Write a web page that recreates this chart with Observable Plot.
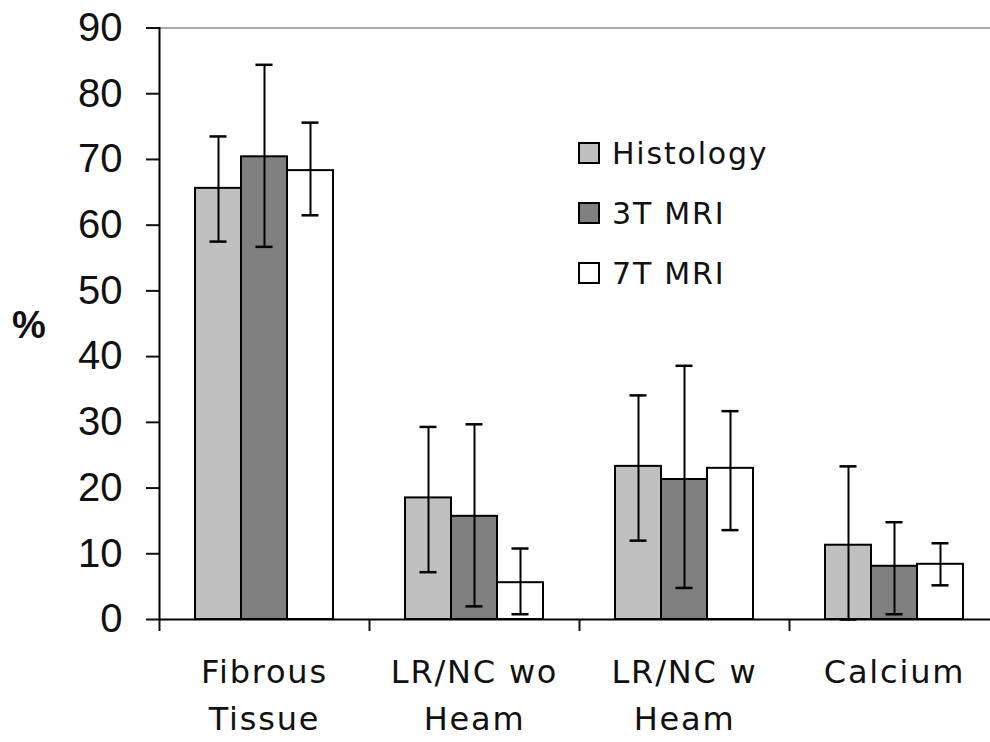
<!DOCTYPE html>
<html>
<head>
<meta charset="utf-8">
<script src="https://cdn.jsdelivr.net/npm/d3@7"></script>
<script src="https://cdn.jsdelivr.net/npm/@observablehq/plot@0.6"></script>
<style>
  html, body { margin: 0; padding: 0; background: #fff; }
  #wrap { position: relative; width: 990px; height: 742px; overflow: hidden; }
  #legend { position: absolute; left: 578px; top: 123px; font-family: "DejaVu Sans", sans-serif; font-size: 30px; letter-spacing: 1.8px; color: #111; }
  #legend .row { display: flex; align-items: center; height: 60px; }
  #legend .box { width: 18px; height: 18px; border: 2px solid #000; margin-right: 12px; box-sizing: content-box; }
  #ylab { position: absolute; left: 12px; top: 304px; font-family: "Liberation Sans", Arial, sans-serif; font-weight: bold; font-size: 38px; color: #111; }
</style>
</head>
<body>
<div id="wrap"><div id="chart"></div><div id="legend"></div><div id="ylab">%</div></div>
<script>
const categories = ["Fibrous\nTissue", "LR/NC wo\nHeam", "LR/NC w\nHeam", "Calcium"];
const series = ["Histology", "3T MRI", "7T MRI"];
const seriesColors = ["#c0c0c0", "#808080", "#ffffff"];

const histologyMean = [65.6, 18.5, 23.3, 11.3];
const histologyLow  = [57.5, 7.2, 12.0, 0.0];
const histologyHigh = [73.5, 29.3, 34.1, 23.3];

const mri3Mean = [70.4, 15.7, 21.3, 8.1];
const mri3Low  = [56.7, 2.0, 4.8, 0.8];
const mri3High = [84.4, 29.7, 38.6, 14.8];

const mri7Mean = [68.3, 5.6, 23.0, 8.4];
const mri7Low  = [61.5, 0.8, 13.6, 5.2];
const mri7High = [75.6, 10.8, 31.7, 11.6];

const yTicks = [0, 10, 20, 30, 40, 50, 60, 70, 80, 90];

const means = [histologyMean, mri3Mean, mri7Mean];
const lows = [histologyLow, mri3Low, mri7Low];
const highs = [histologyHigh, mri3High, mri7High];

const data = [];
categories.forEach((c, ci) => series.forEach((s, si) => {
  data.push({category: c, series: s, value: means[si][ci], low: lows[si][ci], high: highs[si][ci]});
}));

const left = 159, right = 999;
const step = (right - left) / categories.length;

const chart = Plot.plot({
  width: 990,
  height: 742,
  marginLeft: left,
  marginRight: 0,
  marginTop: 27.5,
  marginBottom: 123,
  style: {fontFamily: "'Liberation Sans', Arial, sans-serif", fontSize: "40px", background: "white", color: "#111"},
  fx: {domain: categories, range: [left, right], paddingInner: 0, paddingOuter: 0, label: null},
  x: {domain: series, paddingInner: 0, paddingOuter: 0.74, axis: null},
  y: {domain: [0, 90], range: [619, 27.5], label: null},
  color: {domain: series, range: seriesColors},
  marks: [
    Plot.ruleY([90], {stroke: "#555", strokeWidth: 1}),
    Plot.barY(data, {fx: "category", x: "series", y: "value", fill: "series", stroke: "#000", strokeWidth: 2}),
    Plot.ruleX(data, {fx: "category", x: "series", y1: "low", y2: "high", stroke: "#000", strokeWidth: 2}),
    Plot.tickY(data, {fx: "category", x: "series", y: "high", stroke: "#000", strokeWidth: 2.5, insetLeft: 14.5, insetRight: 14.5}),
    Plot.tickY(data, {fx: "category", x: "series", y: "low", stroke: "#000", strokeWidth: 2.5, insetLeft: 14.5, insetRight: 14.5}),
    Plot.ruleY([0], {stroke: "#000", strokeWidth: 2}),
    Plot.frame({anchor: "left", facetAnchor: "left", stroke: "#000", strokeWidth: 2}),
    Plot.axisY({ticks: yTicks, tickSize: 13, tickPadding: 24, strokeWidth: 2, fontSize: 40, label: null}),
    Plot.axisFx({anchor: "bottom", text: null, tickSize: 12, strokeWidth: 2, dx: -step / 2, label: null}),
    Plot.axisFx({anchor: "bottom", tickSize: 0, tickPadding: 30, fontFamily: "DejaVu Sans", fontSize: 32, lineHeight: 1.47, label: null})
  ]
});
document.getElementById("chart").appendChild(chart);
d3.select(chart).selectAll('g[aria-label="fx-axis tick label"] text').style("letter-spacing", "1.8px");

const legend = d3.select("#legend");
series.forEach((s, i) => {
  const row = legend.append("div").attr("class", "row");
  row.append("div").attr("class", "box").style("background", seriesColors[i]);
  row.append("span").text(s);
});
</script>
</body>
</html>
